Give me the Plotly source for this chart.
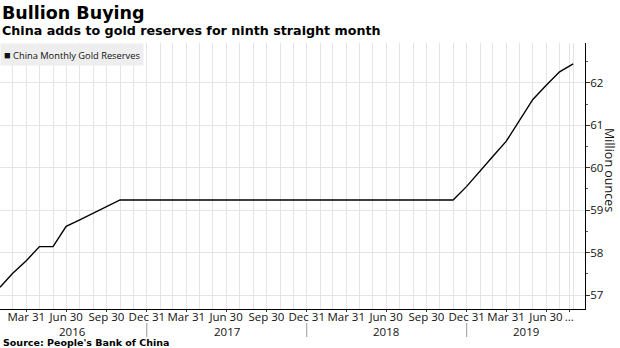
import pandas as pd
import plotly.graph_objects as go

# China's monthly gold reserves, million troy ounces (month-end)
months = pd.date_range("2016-01-31", "2019-08-31", freq="ME")
reserves = (
    [57.18, 57.51, 57.81, 58.14, 58.14, 58.62, 58.77, 58.93, 59.09, 59.24, 59.24, 59.24]
    + [59.24] * 12
    + [59.24] * 11 + [59.56]
    + [59.94, 60.26, 60.62, 61.10, 61.61, 61.94, 62.26, 62.45]
)

# Quarter-end axis labels
tick_dates = [
    "2016-03-31", "2016-06-30", "2016-09-30", "2016-12-31",
    "2017-03-31", "2017-06-30", "2017-09-30", "2017-12-31",
    "2018-03-31", "2018-06-30", "2018-09-30", "2018-12-31",
    "2019-03-31", "2019-06-30", "2019-08-22",
]
tick_text = [
    "Mar 31", "Jun 30", "Sep 30", "Dec 31",
    "Mar 31", "Jun 30", "Sep 30", "Dec 31",
    "Mar 31", "Jun 30", "Sep 30", "Dec 31",
    "Mar 31", "Jun 30", "...",
]
years = ["2016", "2017", "2018", "2019"]
year_mid = ["2016-07-15", "2017-07-01", "2018-07-01", "2019-05-15"]
year_breaks = ["2016-12-31", "2017-12-31", "2018-12-31"]

x_range = ["2016-01-31", "2019-09-27"]
y_range = [56.67, 62.94]

W, H = 620, 348
M_L, M_R, M_T, M_B = 0, 35, 43, 39
PLOT_H = H - M_T - M_B

TEXT_FONT = "Open Sans"
HEAD_FONT = "DejaVu Sans"


def py(px):
    """Convert a pixel row into paper y."""
    return (H - M_B - px) / PLOT_H


fig = go.Figure()
fig.add_trace(go.Scatter(
    x=months, y=reserves, mode="lines",
    line=dict(color="black", width=1.4),
    showlegend=False, hoverinfo="x+y",
))

fig.update_layout(
    width=W, height=H,
    margin=dict(l=M_L, r=M_R, t=M_T, b=M_B),
    paper_bgcolor="white", plot_bgcolor="white",
    font=dict(family=TEXT_FONT, size=11, color="#111"),
    xaxis=dict(
        type="date", range=x_range,
        tickmode="array", tickvals=tick_dates, ticktext=tick_text,
        tickangle=0, ticklabelstandoff=-5,
        ticks="outside", ticklen=2, tickcolor="#333",
        showgrid=True, gridcolor="#e4e4e4", gridwidth=1,
        showline=True, linecolor="black", linewidth=1,
        tickfont=dict(family=TEXT_FONT, size=11.5, color="#111"),
        minor=dict(tickmode="array", tickvals=list(months),
                   showgrid=True, gridcolor="#e4e4e4", ticks=""),
        zeroline=False, fixedrange=True,
    ),
    yaxis=dict(
        side="right", range=y_range, dtick=1, tick0=57,
        ticks="outside", ticklen=4, tickcolor="#333",
        ticklabelstandoff=-2,
        showgrid=True, gridcolor="#e4e4e4",
        showline=True, linecolor="black", linewidth=1,
        tickfont=dict(family=TEXT_FONT, size=11.5, color="#111"),
        minor=dict(dtick=0.5, tick0=57, ticks="outside", ticklen=2,
                   tickcolor="#555", showgrid=False),
        zeroline=False, fixedrange=True,
    ),
)

# Year separators and labels beneath the quarter ticks
for d in year_breaks:
    fig.add_shape(type="line", xref="x", yref="paper", x0=d, x1=d,
                  y0=py(323), y1=py(337), line=dict(color="#999", width=1))
for label, mid in zip(years, year_mid):
    fig.add_annotation(x=mid, xref="x", y=py(331), yref="paper",
                       text=label, showarrow=False, yanchor="middle",
                       height=12, borderpad=0,
                       font=dict(family=TEXT_FONT, size=11.5, color="#111"))

# Headline, subtitle and source
fig.add_annotation(x=0, xref="paper", y=py(13), yref="paper", xanchor="left",
                   yanchor="middle", showarrow=False, text="<b>Bullion Buying</b>",
                   font=dict(family=HEAD_FONT, size=17.5, color="black"))
fig.add_annotation(x=0, xref="paper", y=py(31), yref="paper", xanchor="left",
                   yanchor="middle", showarrow=False,
                   text="<b>China adds to gold reserves for ninth straight month</b>",
                   font=dict(family=HEAD_FONT, size=12.7, color="black"))
fig.add_annotation(x=0.004, xref="paper", y=py(342.5), yref="paper", xanchor="left",
                   yanchor="middle", showarrow=False, height=11, borderpad=0,
                   text="<b>Source: People's Bank of China</b>",
                   font=dict(family=HEAD_FONT, size=9.5, color="black"))

# Legend box
fig.add_annotation(x=0, xref="paper", y=py(42.5), yref="paper", xanchor="left",
                   yanchor="top", showarrow=False, align="left",
                   text="<span style='font-size:11px'>■</span> China Monthly Gold Reserves",
                   bgcolor="#eeeeee", borderpad=3,
                   font=dict(family=TEXT_FONT, size=9.3, color="#111"))

# Axis title on the right, reading downward
fig.add_annotation(x=1.0, xref="paper", xshift=25, xanchor="center",
                   y=py(170), yref="paper", yanchor="middle",
                   showarrow=False, textangle=90, borderpad=0,
                   text="Million ounces",
                   font=dict(family=TEXT_FONT, size=12.5, color="#111"))

fig.write_html("out.html")
